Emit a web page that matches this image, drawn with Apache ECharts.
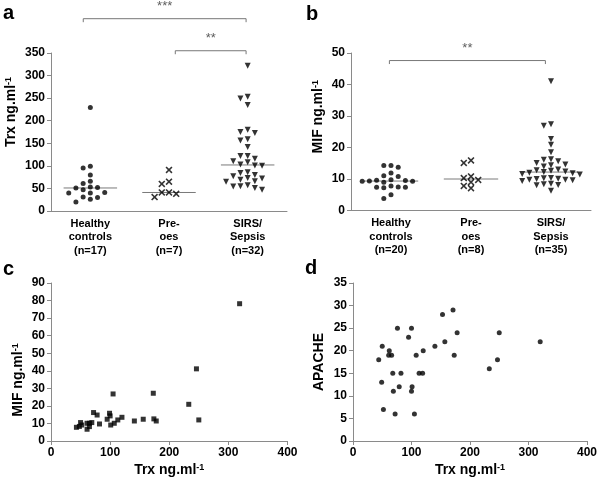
<!DOCTYPE html>
<html>
<head>
<meta charset="utf-8">
<script src="https://cdn.jsdelivr.net/npm/echarts@6/dist/echarts.min.js"></script>
<style>
html, body { margin: 0; padding: 0; background: #fff; }
#main { width: 600px; height: 484px; }
</style>
</head>
<body>
<div id="main"></div>
<script>
// groups shown in panels a and b
var groupNames = ['Healthy\ncontrols', 'Pre-\noes', 'SIRS/\nSepsis'];

// panel a : Trx ng/ml per group
var healthyTrx = [229, 99, 95, 80, 66, 61, 53, 52, 51, 47, 41, 40, 40, 31, 30, 26, 20];
var preoesTrx = [91, 65, 60, 41, 41, 38, 31];
var sirsTrx = [322, 253, 249, 235, 180, 175, 173, 159, 156, 142, 122, 122, 116, 110, 108, 103, 101, 100,
    86, 84, 80, 77, 73, 72, 69, 66, 65, 57, 55, 54, 51, 47];

// panel b : MIF ng/ml per group
var healthyMif = [14.3, 14.3, 13.7, 11.9, 11.0, 10.8, 9.8, 9.6, 9.5, 9.4, 9.3, 9.3, 9.0, 7.8, 7.5, 7.4, 7.4, 7.2, 5.0, 3.8];
var preoesMif = [15.9, 15.1, 10.8, 10.3, 9.7, 9.0, 7.8, 7.1];
var sirsMif = [41, 27.4, 26.9, 22.7, 20.9, 18.5, 16.3, 16.1, 15.6, 15.1, 14.6, 14.4, 14.0, 13.0, 12.8, 12.6, 12.4, 12.2,
    12.0, 11.8, 11.6, 11.4, 10.3, 10.2, 10.1, 10.0, 9.8, 9.8, 9.6, 9.4, 8.5, 8.3, 8.1, 8.0, 6.3];

// panel c : Trx against MIF
var trxC = [319, 246, 173, 105, 233, 250, 178, 174, 156, 141, 120, 113, 107, 101, 99, 100, 95, 82, 72, 78,
    61, 50, 52, 43, 61, 65, 69, 48, 65];
var mifC = [78.2, 41.1, 27.2, 26.8, 20.9, 12.0, 11.4, 12.6, 12.4, 11.4, 13.5, 12.0, 10.1, 9.1, 15.8, 14.3, 12.4, 9.7, 16.2, 14.8,
    6.7, 10.5, 9.1, 7.8, 10.1, 10.1, 10.5, 8.3, 8.2];

// panel d : Trx against APACHE score
var trxD = [44, 50, 49, 52, 62, 61, 66, 68, 69, 72, 76, 82, 79, 95, 100, 101, 100, 105, 108, 113, 119, 120,
    140, 157, 153, 171, 173, 178, 233, 247, 250, 320];
var apache = [18, 21, 13, 7, 20, 19, 19, 15, 11, 6, 25, 15, 12, 23, 25, 12, 11, 6, 19, 15, 15, 20,
    21, 22, 28, 29, 19, 24, 16, 18, 24, 22];

// axis ranges [min, max, interval]
var trxRange = [0, 350, 50];
var mifRange = [0, 50, 10];
var mifRangeC = [0, 90, 10];
var apacheRange = [0, 35, 5];
var trxRangeX = [0, 400, 100];

// significance marks: [from group, to group, label, height]
var sigA = [[0.41, 2.48, '***', 426], [1.58, 2.48, '**', 355]];
var sigB = [[0.48, 2.43, '**', 47.6]];

var FONT = '"Liberation Sans", Arial, sans-serif';
var GREY = '#8a8a8a';
var crossPath = 'path://M0,1.6L1.6,0L5,3.4L8.4,0L10,1.6L6.6,5L10,8.4L8.4,10L5,6.6L1.6,10L0,8.4L3.4,5Z';
var downTri = 'path://M0,0L10,0L5,9Z';

var grids = [
    { left: 51, top: 53, width: 236, height: 158 },
    { left: 351, top: 53, width: 240, height: 157.5 },
    { left: 51, top: 283, width: 236.5, height: 158 },
    { left: 353, top: 283, width: 236.5, height: 158 }
];

function median(arr) {
    var s = arr.slice().sort(function (p, q) { return p - q; });
    var m = Math.floor(s.length / 2);
    return s.length % 2 ? s[m] : (s[m - 1] + s[m]) / 2;
}

// push points of one group sideways so that they do not overlap
function spread(values, center, pxPerVal, step) {
    var taken = [];
    var out = [];
    var order = values.slice().sort(function (p, q) { return q - p; });
    order.forEach(function (v) {
        for (var k = 0; k < 40; k++) {
            var col = Math.ceil(k / 2) * (k % 2 ? -1 : 1);
            var clash = taken.some(function (t) {
                return t.col === col && Math.abs(t.v - v) * pxPerVal < 5.5;
            });
            if (!clash) {
                taken.push({ col: col, v: v });
                out.push([center + col * step, v]);
                break;
            }
        }
    });
    return out;
}

function pairs(xs, ys) {
    return xs.map(function (x, i) { return [x, ys[i]]; });
}

var supStyle = { fontSize: 9, fontWeight: 'bold', fontFamily: FONT, color: '#000', verticalAlign: 'top' };

// shift: moves a rotated axis name along the axis (positive = up)
function valueAxis(grid, range, name, gap, shift) {
    var pad = shift > 0 ? [0, 0, 0, 2 * shift] : [0, -2 * shift, 0, 0];
    return {
        type: 'value', gridIndex: grid, min: range[0], max: range[1], interval: range[2],
        name: name, nameLocation: 'middle', nameGap: gap,
        nameTextStyle: { color: '#000', fontFamily: FONT, fontWeight: 'bold', fontSize: 14, padding: pad, rich: { sup: supStyle } },
        axisLine: { show: true, lineStyle: { color: GREY, width: 1 } },
        axisTick: { show: true, length: 4, lineStyle: { color: GREY } },
        axisLabel: { color: '#000', fontFamily: FONT, fontWeight: 'bold', fontSize: 12, margin: 6 },
        splitLine: { show: false }
    };
}

function groupAxis(grid, groups) {
    return {
        type: 'category', gridIndex: grid,
        data: groupNames.map(function (g, i) { return g + '\n(n=' + groups[i].length + ')'; }),
        axisLine: { lineStyle: { color: GREY, width: 1 } },
        axisTick: { show: false },
        axisLabel: { interval: 0, color: '#000', fontFamily: FONT, fontWeight: 'bold', fontSize: 11, lineHeight: 13.5, margin: 6 }
    };
}

var xAxes = [
    groupAxis(0, [healthyTrx, preoesTrx, sirsTrx]),
    { type: 'value', gridIndex: 0, min: 0, max: 3, show: false },
    groupAxis(1, [healthyMif, preoesMif, sirsMif]),
    { type: 'value', gridIndex: 1, min: 0, max: 3, show: false },
    valueAxis(2, trxRangeX, 'Trx ng.ml{sup|-1}', 22, 0),
    valueAxis(3, trxRangeX, 'Trx ng.ml{sup|-1}', 22, 0)
];

var yAxes = [
    valueAxis(0, trxRange, 'Trx ng.ml{sup|-1}', 33, 20),
    valueAxis(1, mifRange, 'MIF ng.ml{sup|-1}', 26, 15),
    valueAxis(2, mifRangeC, 'MIF ng.ml{sup|-1}', 26, -18),
    valueAxis(3, apacheRange, 'APACHE', 27, 0)
];

var groupSymbols = [['circle', 5], [crossPath, 7], [downTri, [6, 6]]];

var series = [];

function dotPanel(groups, gridIdx, xIdx, yIdx, range, sigs) {
    var g = grids[gridIdx];
    var pxPerVal = g.height / (range[1] - range[0]);
    var step = 7.2 / (g.width / 3);
    groups.forEach(function (vals, i) {
        var c = i + 0.5;
        series.push({
            type: 'scatter', xAxisIndex: xIdx, yAxisIndex: yIdx,
            symbol: groupSymbols[i][0], symbolSize: groupSymbols[i][1],
            itemStyle: { color: '#000' },
            data: spread(vals, c, pxPerVal, step),
            z: 3
        });
        var m = median(vals);
        series.push({
            type: 'line', xAxisIndex: xIdx, yAxisIndex: yIdx,
            symbol: 'none', lineStyle: { color: '#7a7a7a', width: 1 },
            data: [[c - 0.34, m], [c + 0.34, m]],
            z: 2
        });
    });
    var leg = 3.5 / pxPerVal;
    sigs.forEach(function (s) {
        series.push({
            type: 'line', xAxisIndex: xIdx, yAxisIndex: yIdx, clip: false,
            symbol: 'none', lineStyle: { color: '#777', width: 1 },
            data: [[s[0], s[3] - leg], [s[0], s[3]], [s[1], s[3]], [s[1], s[3] - leg]]
        });
        series.push({
            type: 'scatter', xAxisIndex: xIdx, yAxisIndex: yIdx, clip: false,
            symbolSize: 1, itemStyle: { color: 'rgba(0,0,0,0)' },
            label: { show: true, position: 'inside', formatter: s[2], color: '#333', fontSize: 13, fontFamily: FONT },
            data: [[(s[0] + s[1]) / 2, s[3] + 12 / pxPerVal]]
        });
    });
}

dotPanel([healthyTrx, preoesTrx, sirsTrx], 0, 1, 0, trxRange, sigA);
dotPanel([healthyMif, preoesMif, sirsMif], 1, 3, 1, mifRange, sigB);

series.push({
    type: 'scatter', xAxisIndex: 4, yAxisIndex: 2,
    symbol: 'rect', symbolSize: 5, itemStyle: { color: '#000' },
    data: pairs(trxC, mifC)
});
series.push({
    type: 'scatter', xAxisIndex: 5, yAxisIndex: 3,
    symbol: 'circle', symbolSize: 5, itemStyle: { color: '#000' },
    data: pairs(trxD, apache)
});

function panelTitle(t, left, top) {
    return { text: t, left: left, top: top, padding: 0,
        textStyle: { fontFamily: FONT, fontWeight: 'bold', fontSize: 20, color: '#000' } };
}

var myChart = echarts.init(document.getElementById('main'));
var option = {
    animation: false,
    textStyle: { fontFamily: FONT },
    title: [panelTitle('a', 3, 3), panelTitle('b', 306, 4), panelTitle('c', 3, 259), panelTitle('d', 305, 258)],
    grid: grids,
    xAxis: xAxes,
    yAxis: yAxes,
    series: series
};
myChart.setOption(option);
</script>
</body>
</html>
